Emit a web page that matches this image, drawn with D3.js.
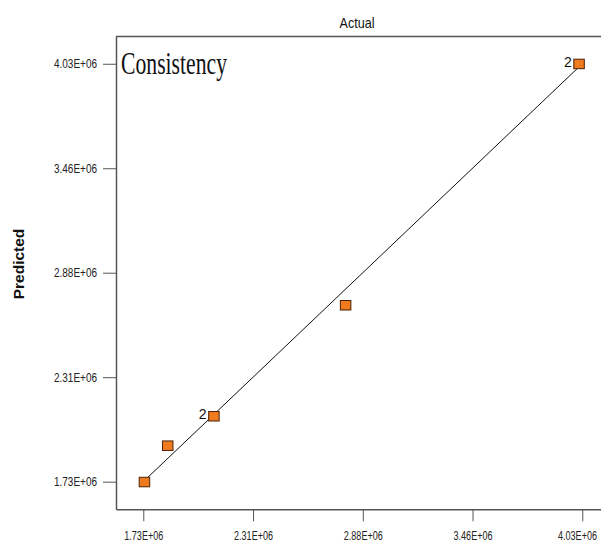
<!DOCTYPE html>
<html>
<head>
<meta charset="utf-8">
<script src="https://cdn.jsdelivr.net/npm/d3@7"></script>
<style>
  html, body { margin: 0; padding: 0; background: #fff; }
  svg { display: block; }
  text { font-family: "Liberation Sans", Arial, sans-serif; }
</style>
</head>
<body>
<svg id="chart" width="601" height="542"></svg>
<script>
// ---- data ----
const actual    = [1.736e6, 1.858e6, 2.100e6, 2.790e6, 4.013e6];
const predicted = [1.728e6, 1.928e6, 2.090e6, 2.701e6, 4.029e6];
const pointLabels = ["", "", "2", "", "2"];
const tickValues = [1.73e6, 2.305e6, 2.88e6, 3.455e6, 4.03e6];
const tickLabels = ["1.73E+06", "2.31E+06", "2.88E+06", "3.46E+06", "4.03E+06"];
const fitLine = [1.73e6, 4.03e6];
const xDomain = [1.587e6, 4.128e6];
const yDomain = [1.578e6, 4.180e6];

// ---- layout ----
const mLeft = 116, mRight = 601, mTop = 36.5, mBottom = 509.3;
const svg = d3.select("#chart");
const axisColor = "#555";

const x = d3.scaleLinear().domain(xDomain).range([mLeft, mRight]);
const y = d3.scaleLinear().domain(yDomain).range([mBottom, mTop]);

// frame (top line)
svg.append("line")
  .attr("x1", mLeft).attr("x2", mRight).attr("y1", mTop).attr("y2", mTop)
  .attr("stroke", axisColor).attr("stroke-width", 1.5);

// x axis
const gx = svg.append("g").attr("transform", `translate(0,${mBottom})`)
  .call(d3.axisBottom(x).tickValues(tickValues)
    .tickFormat((d, i) => tickLabels[i]).tickSize(12).tickSizeOuter(0).tickPadding(10));
// y axis
const gy = svg.append("g").attr("transform", `translate(${mLeft},0)`)
  .call(d3.axisLeft(y).tickValues(tickValues)
    .tickFormat((d, i) => tickLabels[i]).tickSize(13).tickSizeOuter(0).tickPadding(6));

[[gx, 39], [gy, 43]].forEach(([g, len]) => {
  g.select(".domain").attr("stroke", axisColor).attr("stroke-width", 1.5);
  g.selectAll(".tick line").attr("stroke", axisColor).attr("stroke-width", 1);
  g.selectAll(".tick text")
    .attr("fill", "#222")
    .style("font-size", "12.5px")
    .style("font-family", '"Liberation Sans", Arial, sans-serif')
    .attr("textLength", len)
    .attr("lengthAdjust", "spacingAndGlyphs");
});
// keep the last x label just inside the right edge
gx.selectAll(".tick text").filter((d, i, n) => i === n.length - 1)
  .attr("text-anchor", "end")
  .attr("x", function() {
    const t = this.parentNode.getAttribute("transform");
    const tx = +t.match(/translate\(([-\d.]+)/)[1];
    return (597 - tx);
  });

// fit line (predicted = actual)
svg.append("line")
  .attr("x1", x(fitLine[0])).attr("y1", y(fitLine[0]))
  .attr("x2", x(fitLine[1])).attr("y2", y(fitLine[1]))
  .attr("stroke", "#111").attr("stroke-width", 1);

// points
const pts = actual.map((a, i) => ({a, p: predicted[i], lab: pointLabels[i]}));
const sw = 10.5, sh = 9.5;
svg.append("g").selectAll("rect").data(pts).join("rect")
  .attr("x", d => x(d.a) - sw / 2)
  .attr("y", d => y(d.p) - sh / 2)
  .attr("width", sw).attr("height", sh)
  .attr("fill", "#F07A1E")
  .attr("stroke", "#4a2208").attr("stroke-width", 1);

svg.append("g").selectAll("text").data(pts.filter(d => d.lab)).join("text")
  .attr("x", d => x(d.a) - sw / 2 - 2)
  .attr("y", d => y(d.p) + 3)
  .attr("text-anchor", "end")
  .style("font-size", "14px")
  .attr("fill", "#111")
  .text(d => d.lab);

// titles
svg.append("text")
  .attr("x", 357).attr("y", 28)
  .attr("text-anchor", "middle")
  .style("font-size", "15px")
  .attr("fill", "#111")
  .attr("textLength", 35).attr("lengthAdjust", "spacingAndGlyphs")
  .text("Actual");

svg.append("text")
  .attr("transform", "translate(24,264) rotate(-90)")
  .attr("text-anchor", "middle")
  .style("font-size", "15.5px")
  .style("font-weight", "bold")
  .attr("fill", "#111")
  .text("Predicted");

svg.append("text")
  .attr("x", 121).attr("y", 74)
  .style("font-family", '"Liberation Serif", "Times New Roman", serif')
  .style("font-size", "31px")
  .attr("fill", "#111")
  .attr("textLength", 106).attr("lengthAdjust", "spacingAndGlyphs")
  .text("Consistency");
</script>
</body>
</html>
